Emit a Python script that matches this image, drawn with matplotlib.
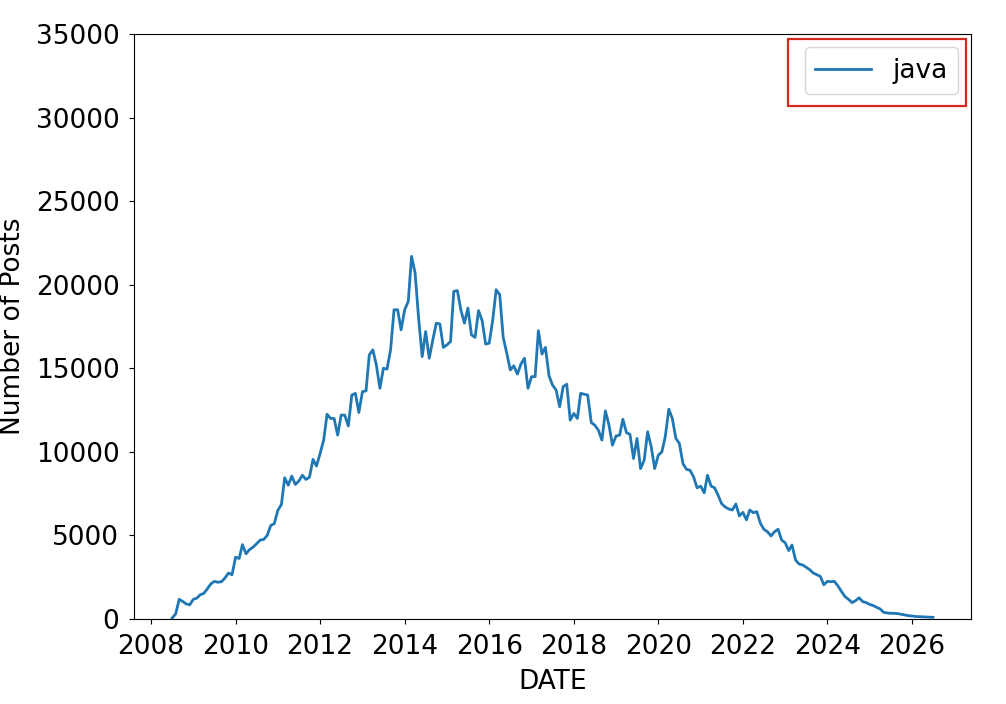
import matplotlib
matplotlib.use("Agg")
import matplotlib.pyplot as plt
import matplotlib.dates as mdates
from matplotlib.patches import Rectangle
import pandas as pd

start_month = "2008-07-01"
series_name = "java"
java_posts = [
    50, 300, 1180, 1050, 900, 850, 1180, 1250, 1450, 1530, 1800, 2100,
    2250, 2200, 2230, 2450, 2750, 2650, 3700, 3620, 4450, 3900, 4150, 4300,
    4500, 4720, 4760, 5000, 5600, 5700, 6500, 6850, 8450, 8000, 8550, 8050,
    8250, 8600, 8350, 8480, 9550, 9150, 9900, 10700, 12250, 12000, 12000, 11000,
    12200, 12200, 11550, 13400, 13500, 12350, 13600, 13650, 15800, 16100, 15200, 13800,
    15000, 14950, 16100, 18500, 18500, 17300, 18500, 19000, 21700, 20700, 18000, 15700,
    17200, 15600, 16700, 17700, 17650, 16250, 16400, 16600, 19600, 19650, 18500, 17700,
    18600, 17000, 16850, 18450, 17850, 16450, 16500, 17900, 19700, 19400, 16850, 15900,
    14900, 15150, 14650, 15250, 15600, 13800, 14500, 14500, 17250, 15850, 16250, 14550,
    14000, 13700, 12700, 13900, 14050, 11900, 12300, 12000, 13500, 13450, 13400, 11750,
    11600, 11300, 10700, 12450, 11600, 10400, 10950, 11000, 11950, 11150, 11050, 9600,
    10800, 9000, 9500, 11200, 10300, 9000, 9800, 10000, 10900, 12550, 12000, 10800,
    10500, 9300, 8950, 8900, 8500, 7850, 7950, 7550, 8600, 7950, 7850, 7400,
    6900, 6700, 6580, 6520, 6880, 6170, 6380, 5930, 6520, 6360, 6420, 5730,
    5370, 5220, 4970, 5220, 5370, 4730, 4560, 4090, 4430, 3530, 3290, 3230,
    3100, 2950, 2750, 2650, 2550, 2050, 2250, 2230, 2250, 1980, 1650, 1340,
    1180, 980, 1100, 1270, 1040, 980, 870, 800, 700, 600, 400, 360,
    340, 340, 320, 280, 240, 200, 180, 150, 140, 130, 120, 110,
    100,
]
y_ticks = [0, 5000, 10000, 15000, 20000, 25000, 30000, 35000]

dates = pd.date_range(start_month, periods=len(java_posts), freq="MS")

plt.rcParams["font.size"] = 19
plt.rcParams["font.family"] = ["DejaVu Sans"]
plt.rcParams["xtick.major.pad"] = 7
plt.rcParams["ytick.major.pad"] = 7

W, H = 1006, 704
fig = plt.figure(figsize=(W / 100, H / 100), dpi=100)
ax = fig.add_axes([134 / W, (H - 619) / H, (971 - 134) / W, (619 - 34) / H])

ax.plot(dates, java_posts, color="#1f77b4", linewidth=2, label=series_name)
ax.set_ylim(0, 35000)
ax.set_yticks(y_ticks)
ax.xaxis.set_major_locator(mdates.YearLocator(2))
ax.xaxis.set_major_formatter(mdates.DateFormatter("%Y"))
ax.set_xlabel("DATE", labelpad=7)
ax.set_ylabel("Number of Posts", labelpad=7)
ax.legend(loc="upper right", handlelength=2.1)

# highlight box around legend
fig.patches.append(Rectangle((788 / W, 1 - 106 / H), 178 / W, 67 / H,
                             transform=fig.transFigure, fill=False,
                             edgecolor="#d42a20", linewidth=1.6))

fig.savefig("out.png", dpi=100)
